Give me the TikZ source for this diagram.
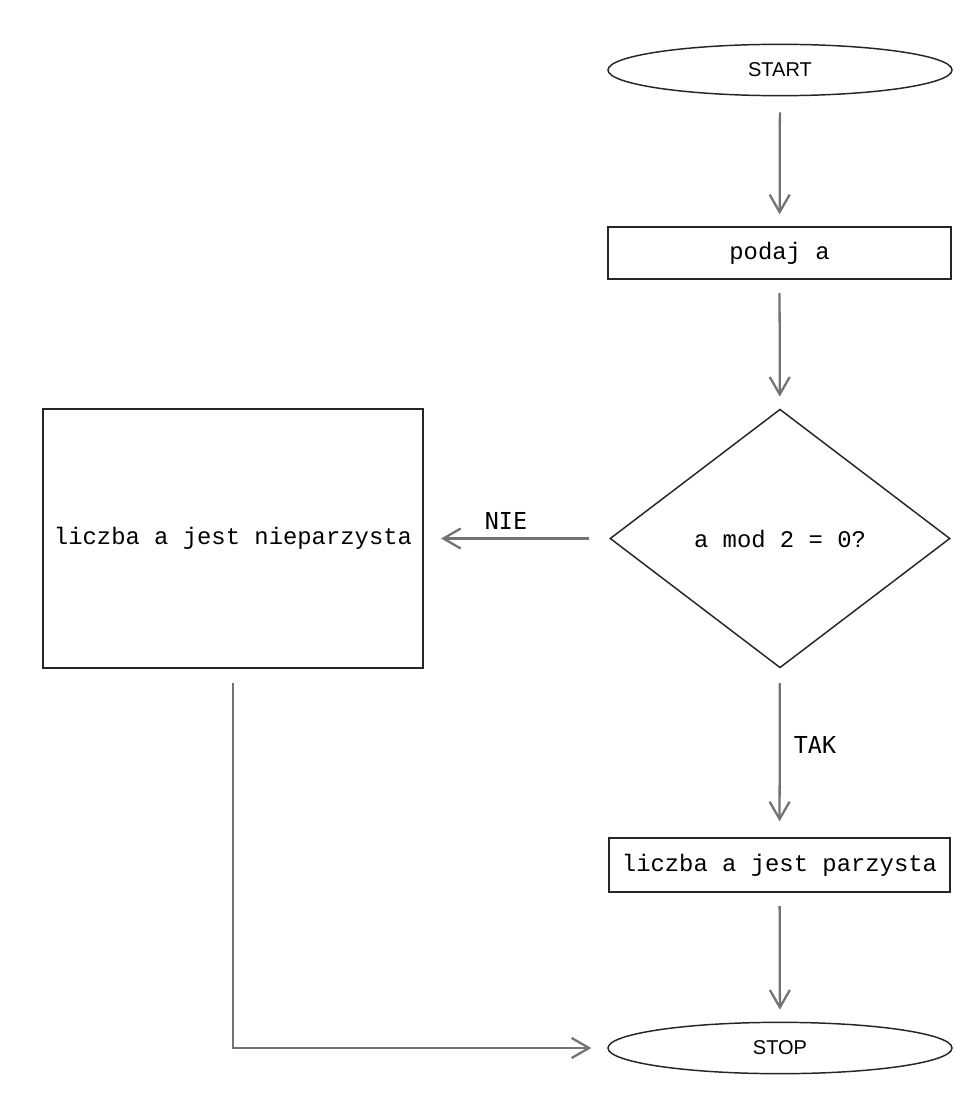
\documentclass[tikz,border=0pt]{standalone}
\usepackage{fontspec}
\setmainfont{Liberation Sans}
\newfontfamily\boxmono{Liberation Mono}
\newfontfamily\labmono{DejaVu Sans Mono}
\usetikzlibrary{shapes.geometric,arrows.meta}
\begin{document}
\begin{tikzpicture}[x=0.75pt,y=-0.75pt,
  outl/.style={draw=black!85,line width=1.1pt,inner sep=0pt},
  oval/.style={outl,ellipse,minimum width=258pt,minimum height=38.5pt,font=\fontsize{15pt}{17pt}\selectfont},
  box/.style={outl,rectangle,font=\boxmono\fontsize{17.9pt}{20pt}\selectfont},
  dec/.style={outl,diamond,minimum width=255pt,minimum height=194pt,font=\boxmono\fontsize{17.9pt}{20pt}\selectfont},
  arr/.style={draw=black!55,line width=1.7pt,-{Straight Barb[length=13pt,width=15pt]}},
  lab/.style={font=\labmono\fontsize{17.5pt}{20pt}\selectfont,inner sep=0pt}]
\useasboundingbox (0,0) rectangle (967,1095);
\fill[white] (0,0) rectangle (967,1095);
\node[oval] (start) at (780,70) {START};
\node[box,minimum width=257pt,minimum height=39pt] (podaj) at (779.5,253) {podaj a};
\node[dec] (cond) at (780,538.5) {a mod 2 = 0?};
\node[box,minimum width=285pt,minimum height=194.25pt] (odd) at (233,538.5) {liczba a jest nieparzysta};
\node[box,minimum width=255.75pt,minimum height=40.5pt] (even) at (779.5,865) {liczba a jest parzysta};
\node[oval] (stop) at (780,1048) {STOP};
\node[lab] (nielab) at (506,521) {NIE};
\node[lab] (taklab) at (815,745) {TAK};
\draw[arr,shorten <=12pt,shorten >=9pt] (start) -- (podaj);
\draw[arr,shorten <=10pt,shorten >=9pt] (podaj) -- (cond);
\draw[arr,shorten <=15pt,shorten >=13pt] (cond) -- (odd);
\draw[arr,shorten <=11pt,shorten >=12pt] (cond) -- (even);
\draw[arr,shorten <=10pt,shorten >=9pt] (even) -- (stop);
\draw[arr,shorten <=11pt,shorten >=12pt] (odd) |- (stop);
\end{tikzpicture}
\end{document}
